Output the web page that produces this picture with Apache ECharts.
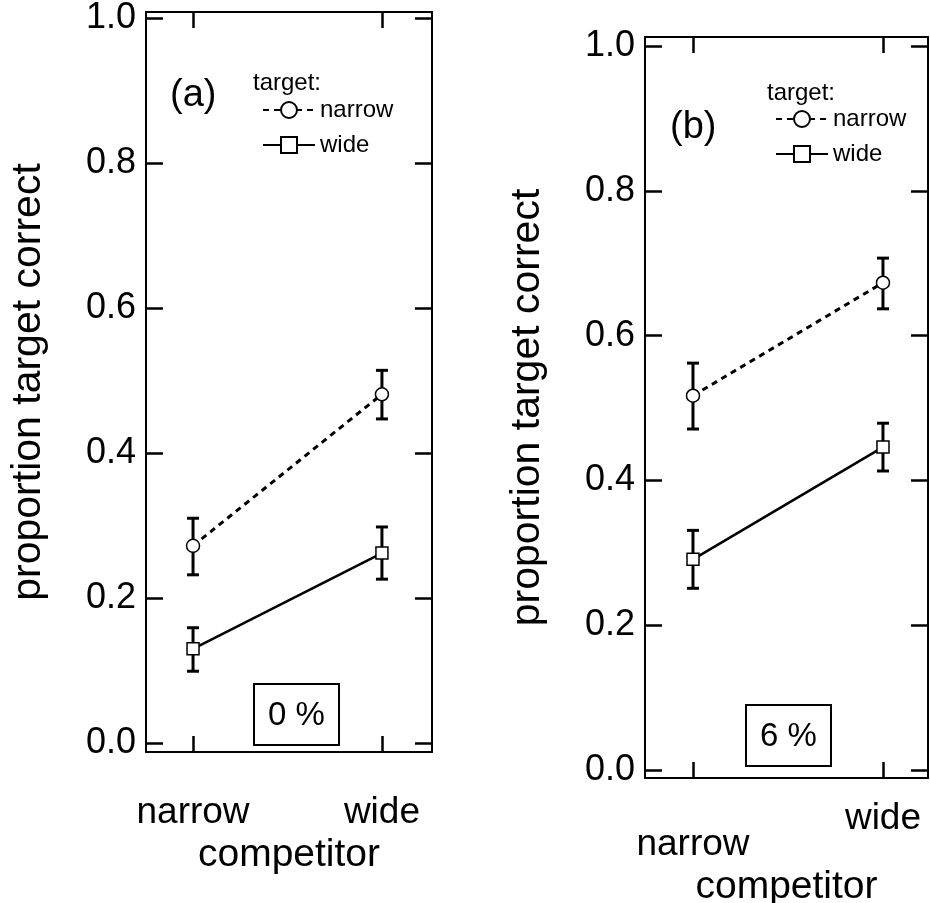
<!DOCTYPE html>
<html>
<head>
<meta charset="utf-8">
<script src="https://cdn.jsdelivr.net/npm/echarts@6/dist/echarts.min.js"></script>
<style>html,body{margin:0;background:#fff}#chart{width:930px;height:903px}</style>
</head>
<body>
<div id="chart"></div>
<script>
var competitors = ['narrow', 'wide']
var yTicks = [0, 0.2, 0.4, 0.6, 0.8, 1.0]

// panel (a): 0 %
var aNarrow = [0.272, 0.481]
var aNarrowLo = [0.232, 0.447]
var aNarrowHi = [0.310, 0.514]
var aWide = [0.130, 0.262]
var aWideLo = [0.099, 0.226]
var aWideHi = [0.159, 0.298]

// panel (b): 6 %
var bNarrow = [0.517, 0.673]
var bNarrowLo = [0.471, 0.637]
var bNarrowHi = [0.562, 0.707]
var bWide = [0.291, 0.446]
var bWideLo = [0.251, 0.413]
var bWideHi = [0.331, 0.479]

var FONT = 'Liberation Sans, Arial, sans-serif'
var pos = [0, 1]

function pts(vals) {
  return vals.map(function (v, i) { return [pos[i], v] })
}
function bars(lo, hi) {
  return lo.map(function (v, i) { return [pos[i], v, hi[i]] })
}

function xAxes(gi, min, max, bottomOpts) {
  var common = {
    type: 'value', gridIndex: gi, min: min, max: max,
    splitLine: { show: false },
    axisLine: { onZero: false, lineStyle: { color: '#000', width: 2 } },
    axisTick: { inside: true, length: 16, customValues: pos, lineStyle: { color: '#000', width: 2.5 } }
  }
  var bottom = Object.assign({}, common, {
    position: 'bottom',
    name: 'competitor', nameLocation: 'middle', nameGap: bottomOpts.nameGap,
    nameTextStyle: { fontFamily: FONT, fontSize: 39, color: '#000' },
    axisLabel: {
      customValues: pos, margin: bottomOpts.margin,
      fontFamily: FONT, fontSize: 37, color: '#000',
      formatter: bottomOpts.formatter,
      rich: bottomOpts.rich
    }
  })
  var top = Object.assign({}, common, { position: 'top', axisLabel: { show: false } })
  return [bottom, top]
}

function yAxes(gi, min, max) {
  var common = {
    type: 'value', gridIndex: gi, min: min, max: max,
    splitLine: { show: false },
    axisLine: { onZero: false, lineStyle: { color: '#000', width: 2 } },
    axisTick: { inside: true, length: 17, customValues: yTicks, lineStyle: { color: '#000', width: 2.5 } }
  }
  var left = Object.assign({}, common, {
    position: 'left',
    name: 'proportion target correct', nameLocation: 'middle', nameGap: 97, nameRotate: 90,
    nameTextStyle: { fontFamily: FONT, fontSize: 41, color: '#000' },
    axisLabel: {
      customValues: yTicks, margin: 10,
      fontFamily: FONT, fontSize: 36, color: '#000',
      formatter: function (v) { return v.toFixed(1) }
    }
  })
  var right = Object.assign({}, common, { position: 'right', axisLabel: { show: false } })
  return [left, right]
}

function lineSeries(name, vals, xi, yi, dashed) {
  return {
    type: 'line', name: name, xAxisIndex: xi, yAxisIndex: yi,
    data: pts(vals), z: 3,
    symbol: dashed ? 'circle' : 'rect', symbolSize: dashed ? 13 : 12,
    itemStyle: { color: '#fff', borderColor: '#000', borderWidth: 1.5 },
    lineStyle: { color: '#000', width: dashed ? 3 : 2.5, type: dashed ? [6, 5] : 'solid' },
    animation: false
  }
}

function errSeries(lo, hi, xi, yi) {
  return {
    type: 'custom', xAxisIndex: xi, yAxisIndex: yi, z: 2,
    data: bars(lo, hi), silent: true, animation: false,
    renderItem: function (params, api) {
      var x = api.value(0)
      var p1 = api.coord([x, api.value(2)])
      var p2 = api.coord([x, api.value(1)])
      var w = 6
      var st = { stroke: '#000', lineWidth: 3 }
      return {
        type: 'group', children: [
          { type: 'line', shape: { x1: p1[0], y1: p1[1], x2: p2[0], y2: p2[1] }, style: st },
          { type: 'line', shape: { x1: p1[0] - w, y1: p1[1], x2: p1[0] + w, y2: p1[1] }, style: st },
          { type: 'line', shape: { x1: p2[0] - w, y1: p2[1], x2: p2[0] + w, y2: p2[1] }, style: st }
        ]
      }
    }
  }
}

function legend(left, top) {
  return {
    left: left, top: top, orient: 'vertical',
    data: ['narrow', 'wide'],
    itemWidth: 52, itemHeight: 20, itemGap: 11,
    textStyle: { fontFamily: FONT, fontSize: 24, color: '#000' },
    selectedMode: false
  }
}

function label(text, left, top, size, boxed) {
  var t = {
    text: text, left: left, top: top, padding: boxed ? [15, 14, 13, 14] : 0,
    textStyle: { fontFamily: FONT, fontSize: size, fontWeight: 'normal', color: '#000' }
  }
  if (boxed) { t.borderColor = '#000'; t.borderWidth = 2 }
  return t
}

var chart = echarts.init(document.getElementById('chart'))
var xa = xAxes(0, -0.249, 1.265, {
  margin: 42, nameGap: 79,
  formatter: function (v) { return competitors[Math.round(v)] }
})
var xb = xAxes(1, -0.2526, 1.237, {
  margin: 22, nameGap: 83,
  formatter: function (v) { return Math.round(v) === 0 ? '{lo|' + competitors[0] + '}' : '{hi|' + competitors[1] + '}' },
  rich: {
    lo: { fontFamily: FONT, fontSize: 37, color: '#000', padding: [26, 0, 0, 0] },
    hi: { fontFamily: FONT, fontSize: 37, color: '#000', padding: [0, 0, 0, 0] }
  }
})
var ya = yAxes(0, -0.0124, 1.0083)
var yb = yAxes(1, -0.011, 1.0124)

chart.setOption({
  backgroundColor: '#fff',
  animation: false,
  textStyle: { fontFamily: FONT },
  grid: [
    { left: 146, top: 12, width: 286, height: 740, outerBoundsMode: 'none', containLabel: false },
    { left: 645, top: 37, width: 283, height: 741, outerBoundsMode: 'none', containLabel: false }
  ],
  xAxis: xa.concat(xb),
  yAxis: ya.concat(yb),
  title: [
    label('(a)', 170, 77, 38),
    label('target:', 253, 71, 24),
    label('0 %', 254, 684, 33, true),
    label('(b)', 670, 109, 38),
    label('target:', 767, 81, 24),
    label('6 %', 746, 705, 33, true)
  ],
  legend: [legend(257, 93), legend(770, 102)],
  series: [
    errSeries(aNarrowLo, aNarrowHi, 0, 0),
    errSeries(aWideLo, aWideHi, 0, 0),
    lineSeries('narrow', aNarrow, 0, 0, true),
    lineSeries('wide', aWide, 0, 0, false),
    errSeries(bNarrowLo, bNarrowHi, 2, 2),
    errSeries(bWideLo, bWideHi, 2, 2),
    lineSeries('narrow', bNarrow, 2, 2, true),
    lineSeries('wide', bWide, 2, 2, false)
  ]
})
</script>
</body>
</html>
